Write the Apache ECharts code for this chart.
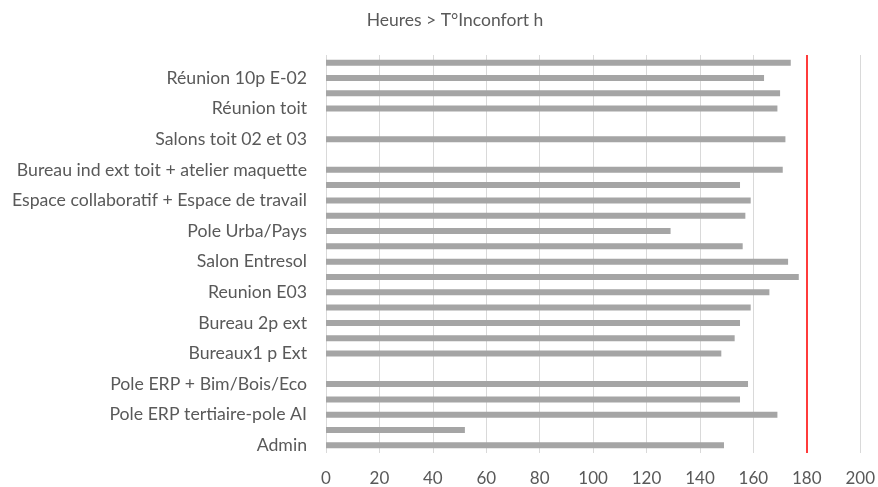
<!DOCTYPE html>
<html>
<head>
<meta charset="utf-8">
<script src="https://cdn.jsdelivr.net/npm/echarts@6/dist/echarts.min.js"></script>
<style>
  html, body { margin: 0; padding: 0; background: #fff; }
  #chart { width: 878px; height: 487px; }
</style>
</head>
<body>
<div id="chart"></div>
<script>
// Rooms listed top to bottom; every labelled room has an unlabelled row just above it
const roomLabels = [
  'Réunion 10p E-02',
  'Réunion toit',
  'Salons toit 02 et 03',
  'Bureau ind ext toit + atelier maquette',
  'Espace collaboratif + Espace de travail',
  'Pole Urba/Pays',
  'Salon Entresol',
  'Reunion E03',
  'Bureau 2p ext',
  'Bureaux1 p Ext',
  'Pole ERP + Bim/Bois/Eco',
  'Pole ERP tertiaire-pole AI',
  'Admin'
];

// Hours above the discomfort temperature, top row first (null = no bar)
const hours = [
  174, 164, 170, 169, null, 172, null, 171, 155, 159,
  157, 129, 156, 173, 177, 166, 159, 155, 153, 148,
  null, 158, 155, 169, 52, 149
];

const xTicks = { min: 0, max: 200, interval: 20 };
const threshold = 180;

// Full category list: unlabelled row, then labelled row, for each room
const categories = [];
roomLabels.forEach(function (name, i) {
  categories.push('\u200b'.repeat(i + 1));
  categories.push(name);
});

const font = 'Lato';
const textColor = '#595959';

const chart = echarts.init(document.getElementById('chart'));
chart.setOption({
  animation: false,
  title: {
    text: 'Heures > T°Inconfort h',
    left: 450,
    top: 6,
    textAlign: 'center',
    textStyle: { fontFamily: font, fontSize: 17.5, fontWeight: 'normal', color: textColor }
  },
  grid: { left: 326, right: 15, top: 55, bottom: 34, containLabel: false },
  xAxis: {
    type: 'value',
    min: xTicks.min,
    max: xTicks.max,
    interval: xTicks.interval,
    axisLine: { show: false },
    axisTick: { show: false },
    axisLabel: { margin: 17, fontFamily: font, fontSize: 17, color: textColor },
    splitLine: { show: true, lineStyle: { color: '#d9d9d9', width: 1 } }
  },
  yAxis: {
    type: 'category',
    inverse: true,
    data: categories,
    axisLine: { show: false },
    axisTick: { show: false },
    axisLabel: {
      interval: function (idx) { return idx % 2 === 1; },
      margin: 19,
      fontFamily: font,
      fontSize: 17.7,
      color: textColor
    },
    splitLine: { show: false }
  },
  series: [{
    type: 'bar',
    data: hours,
    barWidth: 6,
    itemStyle: { color: '#a5a5a5' },
    markLine: {
      silent: true,
      symbol: 'none',
      label: { show: false },
      lineStyle: { color: '#ff3b3b', width: 2, type: 'solid' },
      data: [{ xAxis: threshold }]
    }
  }]
});
</script>
</body>
</html>
